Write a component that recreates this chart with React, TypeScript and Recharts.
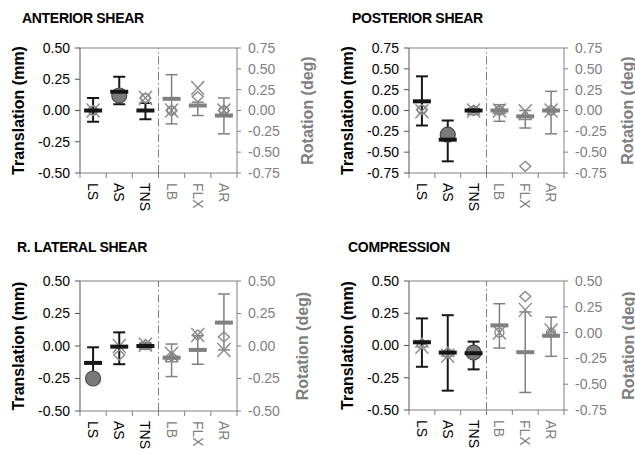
import React from 'react';
import { ComposedChart, Scatter, XAxis, YAxis, ErrorBar, ReferenceLine } from 'recharts';

const FONT = 'Arial, "Liberation Sans", Helvetica, sans-serif';
const DARK = '#161616';
const GRAY = '#808080';
const MARK = '#8a8a8a';
const AXIS_DARK = '#555555';

// ---------- data ----------
const categories = ['LS', 'AS', 'TNS', 'LB', 'FLX', 'AR'];
const ticksHalf = [-0.5, -0.25, 0, 0.25, 0.5];
const ticksThreeQ = [-0.75, -0.5, -0.25, 0, 0.25, 0.5, 0.75];
const ticksComp = [-0.75, -0.5, -0.25, 0, 0.25, 0.5];

// first three values: translation (mm, left axis); last three: rotation (deg, right axis)
// ANTERIOR SHEAR
const antMean = [0.0, 0.15, 0.0, 0.14, 0.06, -0.06];
const antLow = [-0.09, 0.05, -0.07, -0.16, -0.06, -0.28];
const antHigh = [0.1, 0.27, 0.06, 0.43, 0.1, 0.15];
const antCross = [0.0, null, 0.1, 0.0, 0.27, 0.0];
const antDiamond = [0.0, null, 0.1, 0.0, 0.165, 0.0];
const antCircle = [0.0, null, 0.1, 0.0, null, 0.0];
const antTriangle = [null, null, null, null, null, null];
const antLoaded = [null, 0.12, null, null, null, null];

// POSTERIOR SHEAR
const postMean = [0.11, -0.35, 0.0, 0.0, -0.07, 0.0];
const postLow = [-0.18, -0.61, -0.02, -0.13, -0.21, -0.28];
const postHigh = [0.41, -0.12, 0.02, 0.07, 0.0, 0.23];
const postCross = [-0.01, null, 0.0, 0.0, -0.01, 0.0];
const postDiamond = [0.01, null, 0.0, 0.0, -0.67, 0.0];
const postCircle = [0.01, null, 0.0, 0.0, null, 0.0];
const postTriangle = [null, null, 0.0, 0.01, -0.06, null];
const postLoaded = [null, -0.29, null, null, null, null];

// R. LATERAL SHEAR
const latMean = [-0.13, -0.005, 0.0, -0.09, -0.03, 0.18];
const latLow = [-0.27, -0.14, -0.02, -0.235, -0.14, -0.03];
const latHigh = [-0.01, 0.105, 0.02, 0.015, 0.08, 0.4];
const latCross = [null, 0.0, 0.01, -0.06, 0.085, -0.03];
const latDiamond = [null, -0.07, 0.01, -0.08, 0.085, 0.07];
const latCircle = [null, null, null, null, null, null];
const latTriangle = [null, null, 0.01, -0.09, null, null];
const latLoaded = [-0.25, null, null, null, null, null];

// COMPRESSION
const compMean = [0.025, -0.055, -0.06, 0.07, -0.19, -0.03];
const compLow = [-0.165, -0.35, -0.185, -0.15, -0.58, -0.23];
const compHigh = [0.21, 0.235, 0.03, 0.28, 0.2, 0.15];
const compCross = [-0.01, -0.08, null, 0.0, 0.22, 0.02];
const compDiamond = [null, null, null, null, 0.35, null];
const compCircle = [0.01, -0.06, null, 0.0, null, 0.0];
const compTriangle = [0.02, -0.05, null, null, null, 0.0];
const compLoaded = [null, null, -0.055, null, null, null];

type Num = number | null;
type PanelData = {
  title: string;
  mean: number[]; low: number[]; high: number[];
  cross: Num[]; diamond: Num[]; circle: Num[]; triangle: Num[]; loaded: Num[];
  leftTicks: number[]; rightTicks: number[];
};

const panelData: PanelData[] = [
  { title: 'ANTERIOR SHEAR', mean: antMean, low: antLow, high: antHigh, cross: antCross, diamond: antDiamond, circle: antCircle, triangle: antTriangle, loaded: antLoaded, leftTicks: ticksHalf, rightTicks: ticksThreeQ },
  { title: 'POSTERIOR SHEAR', mean: postMean, low: postLow, high: postHigh, cross: postCross, diamond: postDiamond, circle: postCircle, triangle: postTriangle, loaded: postLoaded, leftTicks: ticksThreeQ, rightTicks: ticksThreeQ },
  { title: 'R. LATERAL SHEAR', mean: latMean, low: latLow, high: latHigh, cross: latCross, diamond: latDiamond, circle: latCircle, triangle: latTriangle, loaded: latLoaded, leftTicks: ticksHalf, rightTicks: ticksHalf },
  { title: 'COMPRESSION', mean: compMean, low: compLow, high: compHigh, cross: compCross, diamond: compDiamond, circle: compCircle, triangle: compTriangle, loaded: compLoaded, leftTicks: ticksHalf, rightTicks: ticksComp },
];

// ---------- layout ----------
const layouts = [
  { left: 0, top: 0, w: 320, h: 220, mt: 48, lw: 80, rw: 83, xh: 47, lOff: 18, rOff: 70, tx: 22, tb: 23 },
  { left: 315, top: 0, w: 320, h: 220, mt: 48, lw: 94, rw: 71, xh: 47, lOff: 32, rOff: 63, tx: 352, tb: 23 },
  { left: 0, top: 225, w: 320, h: 229, mt: 56, lw: 80, rw: 83, xh: 43, lOff: 18, rOff: 65, tx: 17, tb: 252 },
  { left: 315, top: 225, w: 320, h: 229, mt: 56, lw: 94, rw: 71, xh: 44, lOff: 32, rOff: 64, tx: 348, tb: 252 },
];

// ---------- helpers ----------
const onSide = (i: number, side: string) => (side === 'L' ? i < 3 : i >= 3);
const pts = (vals: Num[], side: string) =>
  vals
    .map((v, i) => ({ x: i + 0.5, y: v, i }))
    .filter((p) => p.y !== null && onSide(p.i, side));
const errPts = (d: PanelData, side: string) =>
  d.mean
    .map((m, i) => ({ x: i + 0.5, y: m, i, err: [m - d.low[i], d.high[i] - m] }))
    .filter((p) => onSide(p.i, side));

const dashShape = (color: string) => (p: any) => (
  <rect x={p.cx - 9} y={p.cy - 2} width={18} height={4} fill={color} />
);
const crossShape = (p: any) => (
  <g stroke={MARK} strokeWidth={1.4} fill="none">
    <line x1={p.cx - 6.5} y1={p.cy - 7} x2={p.cx + 6.5} y2={p.cy + 7} />
    <line x1={p.cx - 6.5} y1={p.cy + 7} x2={p.cx + 6.5} y2={p.cy - 7} />
  </g>
);
const diamondShape = (p: any) => (
  <polygon
    points={`${p.cx},${p.cy - 5} ${p.cx + 5.5},${p.cy} ${p.cx},${p.cy + 5} ${p.cx - 5.5},${p.cy}`}
    fill="#fff"
    fillOpacity={0}
    stroke={MARK}
    strokeWidth={1.4}
  />
);
const circleShape = (p: any) => (
  <circle cx={p.cx} cy={p.cy} r={4.5} fill="none" stroke={MARK} strokeWidth={1.4} />
);
const triangleShape = (p: any) => (
  <polygon
    points={`${p.cx},${p.cy - 5} ${p.cx + 6},${p.cy + 4} ${p.cx - 6},${p.cy + 4}`}
    fill="none"
    stroke={MARK}
    strokeWidth={1.4}
  />
);
const loadedShape = (p: any) => (
  <circle cx={p.cx} cy={p.cy} r={7.5} fill="#7a7a7a" stroke="#4a4a4a" strokeWidth={1.2} />
);

const xTicks = Array.from({ length: 13 }, (_, k) => k / 2);

const XTick = (props: any) => {
  const { x, y, payload } = props;
  const v = payload.value as number;
  if (Number.isInteger(v)) {
    return <line x1={x} x2={x} y1={y} y2={y + 5} stroke={GRAY} strokeWidth={1} />;
  }
  const i = Math.floor(v);
  const ty = y + 10;
  return (
    <text
      x={x}
      y={ty}
      transform={`rotate(90, ${x}, ${ty})`}
      textAnchor="start"
      dominantBaseline="central"
      fill={i < 3 ? '#000' : GRAY}
      fontSize={14}
      fontFamily={FONT}
    >
      {categories[i]}
    </text>
  );
};

const axisTitle = (text: string, off: number, color: string) => (p: any) => {
  const vb = p.viewBox || {};
  const cx = vb.x + off;
  const cy = vb.y + vb.height / 2;
  return (
    <text
      x={cx}
      y={cy}
      transform={`rotate(-90, ${cx}, ${cy})`}
      textAnchor="middle"
      dominantBaseline="central"
      fill={color}
      fontSize={16}
      fontWeight="bold"
      fontFamily={FONT}
    >
      {text}
    </text>
  );
};

const Panel = ({ d, l }: { d: PanelData; l: (typeof layouts)[number] }) => {
  const ld: [number, number] = [d.leftTicks[0], d.leftTicks[d.leftTicks.length - 1]];
  const rd: [number, number] = [d.rightTicks[0], d.rightTicks[d.rightTicks.length - 1]];
  const sides = ['L', 'R'];
  return (
    <div style={{ position: 'absolute', left: l.left, top: l.top, width: l.w, height: l.h }}>
      <ComposedChart
        width={l.w}
        height={l.h}
        margin={{ top: l.mt, right: 0, bottom: 0, left: 0 }}
        style={{ overflow: 'visible' }}
      >
        <XAxis
          xAxisId={0}
          dataKey="x"
          type="number"
          domain={[0, 6]}
          ticks={xTicks}
          interval={0}
          allowDataOverflow
          height={l.xh}
          tickSize={0}
          tickMargin={0}
          tickLine={false}
          tick={<XTick />}
          stroke={GRAY}
        />
        <YAxis
          yAxisId="L"
          dataKey="y"
          type="number"
          domain={ld}
          ticks={d.leftTicks}
          interval={0}
          allowDataOverflow
          width={l.lw}
          tickSize={5}
          tickMargin={5}
          tickFormatter={(v: number) => v.toFixed(2)}
          tick={{ fill: '#000', fontSize: 14, fontFamily: FONT }}
          stroke={AXIS_DARK}
          label={axisTitle('Translation (mm)', l.lOff, '#000')}
        />
        <YAxis
          yAxisId="R"
          orientation="right"
          dataKey="y"
          type="number"
          domain={rd}
          ticks={d.rightTicks}
          interval={0}
          allowDataOverflow
          width={l.rw}
          tickSize={4}
          tickMargin={7}
          tickFormatter={(v: number) => v.toFixed(2)}
          tick={{ fill: GRAY, fontSize: 14, fontFamily: FONT }}
          stroke={GRAY}
          label={axisTitle('Rotation (deg)', l.rOff, GRAY)}
        />
        <ReferenceLine yAxisId="L" y={ld[1]} stroke={GRAY} strokeWidth={1} />
        <ReferenceLine yAxisId="L" x={3} stroke={GRAY} strokeWidth={1} strokeDasharray="8 3 1.5 3" />
        {sides.map((s) => (
          <Scatter key={'c' + s} yAxisId={s} dataKey="y" data={pts(d.circle, s)} shape={circleShape} isAnimationActive={false} />
        ))}
        {sides.map((s) => (
          <Scatter key={'t' + s} yAxisId={s} dataKey="y" data={pts(d.triangle, s)} shape={triangleShape} isAnimationActive={false} />
        ))}
        {sides.map((s) => (
          <Scatter key={'d' + s} yAxisId={s} dataKey="y" data={pts(d.diamond, s)} shape={diamondShape} isAnimationActive={false} />
        ))}
        {sides.map((s) => (
          <Scatter key={'x' + s} yAxisId={s} dataKey="y" data={pts(d.cross, s)} shape={crossShape} isAnimationActive={false} />
        ))}
        {sides.map((s) => (
          <Scatter key={'f' + s} yAxisId={s} dataKey="y" data={pts(d.loaded, s)} shape={loadedShape} isAnimationActive={false} />
        ))}
        {sides.map((s) => {
          const c = s === 'L' ? DARK : GRAY;
          return (
            <Scatter key={'m' + s} yAxisId={s} dataKey="y" data={errPts(d, s)} shape={dashShape(c)} isAnimationActive={false}>
              <ErrorBar dataKey="err" direction="y" width={6} stroke={c} strokeWidth={s === 'L' ? 2 : 1.5} isAnimationActive={false} />
            </Scatter>
          );
        })}
      </ComposedChart>
    </div>
  );
};

export default function App() {
  return (
    <div
      style={{
        position: 'absolute',
        left: 0,
        top: 0,
        width: 635,
        height: 454,
        background: '#fff',
        fontFamily: FONT,
        overflow: 'hidden',
      }}
    >
      {panelData.map((d, k) => (
        <Panel key={k} d={d} l={layouts[k]} />
      ))}
      {panelData.map((d, k) => (
        <div
          key={'t' + k}
          style={{
            position: 'absolute',
            left: layouts[k].tx,
            top: layouts[k].tb - 11.6,
            fontSize: 14,
            lineHeight: '14px',
            fontWeight: 'bold',
            letterSpacing: '-0.3px',
            color: '#000',
            whiteSpace: 'nowrap',
          }}
        >
          {d.title}
        </div>
      ))}
    </div>
  );
}
